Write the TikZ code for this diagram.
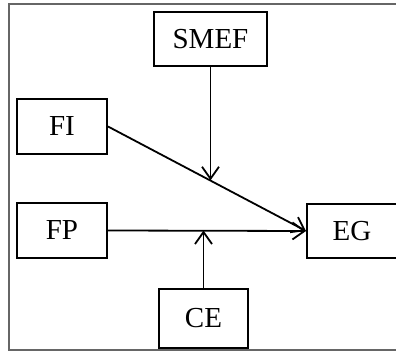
\documentclass[tikz,border=0pt]{standalone}
\usepackage{fontspec}
\setmainfont{Liberation Serif}
\usetikzlibrary{arrows.meta,calc}
\begin{document}
\begin{tikzpicture}[x=1pt,y=-1pt,
  var/.style={draw, line width=2pt, inner sep=0pt, font=\fontsize{29}{33}\selectfont},
  link/.style={line width=1.8pt, -{Straight Barb[length=12pt,width=17pt,line width=1.8pt]}}]
\useasboundingbox (0,0) rectangle (396,352);
\draw[black!60, line width=1.5pt] (9,4) rectangle (420,350);
\node[var, minimum width=113pt, minimum height=54pt] (smef) at (210.5,39){SMEF};
\node[var, minimum width=90pt, minimum height=55pt] (fi) at (62,126.5){FI};
\node[var, minimum width=90pt, minimum height=55pt] (fp) at (62,230.5){FP};
\node[var, minimum width=90pt, minimum height=54pt] (eg) at (352,231){EG};
\node[var, minimum width=89pt, minimum height=59pt] (ce) at (203.5,318.5){CE};
\coordinate (m1) at ($(fi.east)!0.515!(eg.west)$);
\draw[link](fi.east) -- (eg.west);
\draw[link](fp.east) -- (eg.west);
\draw[link](smef.south) -- (smef.south |- m1);
\draw[link](ce.north) -- (ce.north |- fp.east);
\end{tikzpicture}
\end{document}
